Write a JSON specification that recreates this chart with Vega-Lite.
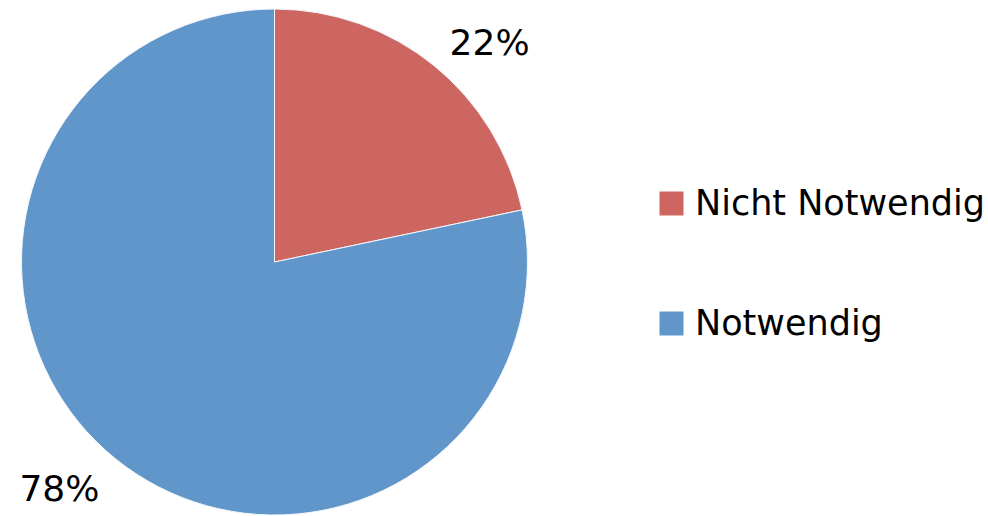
{
  "$schema": "https://vega.github.io/schema/vega-lite/v6.json",
  "width": 549,
  "height": 516,
  "autosize": "none",
  "padding": {"left": 0, "top": 0, "right": 439, "bottom": 0},
  "background": "white",
  "config": {"view": {"stroke": null}},
  "data": {
    "values": [
      {"category": "Nicht Notwendig", "value": 21.7, "label": "22%"},
      {"category": "Notwendig", "value": 78.3, "label": "78%"}
    ]
  },
  "encoding": {
    "theta": {"field": "value", "type": "quantitative", "stack": true},
    "order": {"field": "category", "sort": "ascending"}
  },
  "layer": [
    {
      "mark": {"type": "arc", "radius": 253, "stroke": "#f4f7fb", "strokeWidth": 1, "yOffset": 4},
      "encoding": {
        "color": {
          "field": "category",
          "type": "nominal",
          "scale": {"domain": ["Nicht Notwendig", "Notwendig"], "range": ["#CD6660", "#6096C9"]},
          "legend": {
            "title": null,
            "orient": "none",
            "legendX": 654,
            "legendY": 186,
            "padding": 0,
            "symbolType": "square",
            "symbolSize": 576,
            "symbolStrokeWidth": 0,
            "symbolOpacity": 1,
            "labelFont": "DejaVu Sans",
            "labelFontSize": 35,
            "labelColor": "black",
            "labelOffset": 6,
            "labelLimit": 400,
            "rowPadding": 84
          }
        }
      }
    },
    {
      "mark": {"type": "text", "radius": 310, "thetaOffset": 0.085, "yOffset": 4, "dy": 5, "font": "DejaVu Sans", "fontSize": 36, "color": "black"},
      "encoding": {"text": {"field": "label"}}
    }
  ]
}
